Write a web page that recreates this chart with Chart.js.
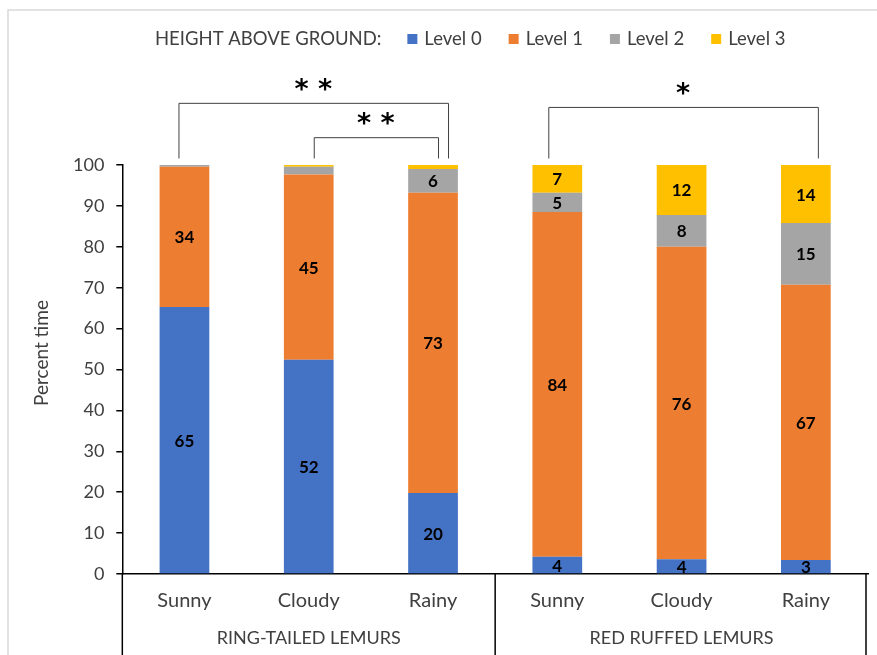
<!DOCTYPE html>
<html lang="en">
<head>
<meta charset="UTF-8">
<title>Height above ground - lemurs</title>
<script src="https://cdn.jsdelivr.net/npm/chart.js"></script>
<style>
  body { margin: 0; background: #fff; }
  canvas { display: block; }
</style>
</head>
<body>
<canvas id="lemurChart" width="877" height="655"></canvas>
<script>
// weather categories, two lemur groups of three
const categories = ['Sunny', 'Cloudy', 'Rainy', 'Sunny', 'Cloudy', 'Rainy'];
const groups = ['RING-TAILED LEMURS', 'RED RUFFED LEMURS'];
const groupSpans = [[0, 2], [3, 5]];

// percent time at each height level
const level0 = [65.3, 52.4, 19.8, 4.2, 3.6, 3.4];
const level1 = [34.3, 45.3, 73.4, 84.3, 76.4, 67.3];
const level2 = [0.4, 1.9, 5.8, 4.7, 7.8, 15.1];
const level3 = [0, 0.4, 1.0, 6.8, 12.2, 14.2];

const levelNames = ['Level 0', 'Level 1', 'Level 2', 'Level 3'];
const levelColors = ['#4472C4', '#ED7D31', '#A5A5A5', '#FFC000'];

// significance brackets (category index from/to, bracket height in % units)
const brackets = [
  { from: 0, to: 2, top: 115.2, label: '**', dxFrom: -6, dxTo: 15 },
  { from: 1, to: 2, top: 106.8, label: '**', dxFrom: 5, dxTo: 5 },
  { from: 3, to: 5, top: 114.2, label: '*', dxFrom: -9, dxTo: 12 }
];

const FONT = 'Lato, "Open Sans", sans-serif';
const TEXT = '#404040';

// legend, labels, brackets and separators
const extras = {
  id: 'extras',
  beforeDraw(chart) {
    const ctx = chart.ctx;
    ctx.save();
    ctx.fillStyle = '#fff';
    ctx.fillRect(0, 0, chart.width, chart.height);
    // outer frame
    ctx.strokeStyle = '#d9d9d9';
    ctx.lineWidth = 1.5;
    ctx.beginPath();
    ctx.moveTo(8, chart.height);
    ctx.lineTo(8, 10);
    ctx.lineTo(chart.width, 10);
    ctx.stroke();
    ctx.restore();
  },
  afterDraw(chart) {
    const ctx = chart.ctx;
    const x = chart.scales.x, y = chart.scales.y;
    const area = chart.chartArea;
    ctx.save();

    // data labels
    ctx.font = 'bold 17px ' + FONT;
    ctx.fillStyle = '#000';
    ctx.textAlign = 'center';
    ctx.textBaseline = 'middle';
    chart.data.datasets.forEach((ds, i) => {
      chart.getDatasetMeta(i).data.forEach((bar, j) => {
        const v = ds.data[j];
        if (v >= 3) ctx.fillText(Math.round(v), bar.x, (bar.y + bar.base) / 2 + 1);
      });
    });

    // axis title
    ctx.save();
    ctx.translate(42, 353);
    ctx.rotate(-Math.PI / 2);
    ctx.font = '19px ' + FONT;
    ctx.fillStyle = TEXT;
    ctx.fillText('Percent time', 0, 0);
    ctx.restore();

    // category separators below the axis
    ctx.strokeStyle = '#000';
    ctx.lineWidth = 1.5;
    const seps = [area.left, x.getPixelForValue(2.5), area.right - 2];
    seps.forEach(px => {
      ctx.beginPath();
      ctx.moveTo(px, area.bottom);
      ctx.lineTo(px, chart.height);
      ctx.stroke();
    });

    // group labels
    ctx.font = '18px ' + FONT;
    ctx.fillStyle = TEXT;
    groups.forEach((g, k) => {
      const [a, b] = groupSpans[k];
      const cx = (x.getPixelForValue(a) + x.getPixelForValue(b)) / 2;
      ctx.fillText(g, cx, 638);
    });

    // significance brackets
    ctx.strokeStyle = '#404040';
    ctx.lineWidth = 1;
    const legBottom = y.getPixelForValue(101.6);
    brackets.forEach(br => {
      const x1 = x.getPixelForValue(br.from) + br.dxFrom;
      const x2 = x.getPixelForValue(br.to) + br.dxTo;
      const yt = y.getPixelForValue(br.top);
      ctx.beginPath();
      ctx.moveTo(x1 + 0.5, legBottom);
      ctx.lineTo(x1 + 0.5, yt + 0.5);
      ctx.lineTo(x2 + 0.5, yt + 0.5);
      ctx.lineTo(x2 + 0.5, legBottom);
      ctx.stroke();
      ctx.font = 'bold 27px "DejaVu Sans", sans-serif';
      ctx.fillStyle = '#000';
      ctx.fillText(br.label.split('').join(' '), (x1 + x2) / 2, yt - 12);
    });

    // legend
    ctx.font = '18.5px ' + FONT;
    ctx.fillStyle = TEXT;
    ctx.textAlign = 'left';
    let lx = 155;
    const ly = 39;
    const title = 'HEIGHT ABOVE GROUND:';
    ctx.fillText(title, lx, ly);
    lx += ctx.measureText(title).width + 26;
    chart.data.datasets.forEach(ds => {
      ctx.fillStyle = ds.backgroundColor;
      ctx.fillRect(lx, ly - 5, 10, 10);
      lx += 17;
      ctx.fillStyle = TEXT;
      ctx.fillText(ds.label, lx, ly);
      lx += ctx.measureText(ds.label).width + 27;
    });

    ctx.restore();
  }
};

const seriesData = [level0, level1, level2, level3];

new Chart(document.getElementById('lemurChart'), {
  type: 'bar',
  data: {
    labels: categories,
    datasets: seriesData.map((d, i) => ({
      label: levelNames[i],
      data: d,
      backgroundColor: levelColors[i],
      borderWidth: 0,
      categoryPercentage: 1,
      barPercentage: 0.4
    }))
  },
  options: {
    responsive: false,
    animation: false,
    devicePixelRatio: 1,
    layout: { padding: { top: 165, left: 61, right: 9, bottom: 27 } },
    plugins: {
      legend: { display: false },
      tooltip: { enabled: false }
    },
    scales: {
      x: {
        stacked: true,
        grid: { display: false, drawTicks: false },
        border: { display: true, color: '#000', width: 1.5 },
        ticks: { font: { family: FONT, size: 20 }, color: TEXT, padding: 15, maxRotation: 0 }
      },
      y: {
        stacked: true,
        min: 0,
        max: 100,
        ticks: { stepSize: 10, font: { family: FONT, size: 18 }, color: TEXT, padding: 12 },
        grid: { drawOnChartArea: false, drawTicks: true, tickLength: 6, color: '#000', lineWidth: 1.5 },
        border: { display: true, color: '#000', width: 1.5 }
      }
    }
  },
  plugins: [extras]
});
</script>
</body>
</html>
